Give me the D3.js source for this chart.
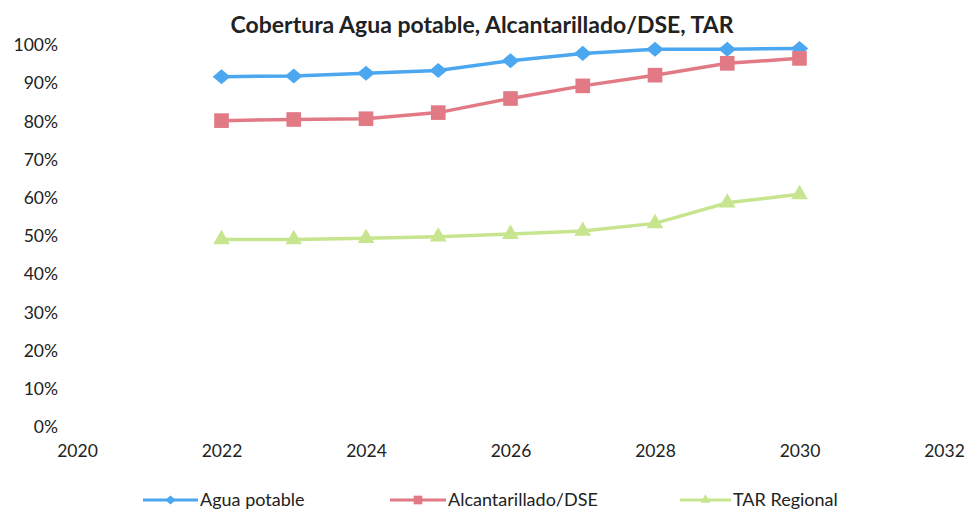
<!DOCTYPE html>
<html><head><meta charset="utf-8">
<script src="https://cdn.jsdelivr.net/npm/d3@7"></script>
<style>body{margin:0;background:#fff}svg{display:block}text{font-family:Lato,"Open Sans",sans-serif;fill:#222}</style>
</head><body><svg id="c" width="968" height="513"></svg>
<script>
const years = [2022,2023,2024,2025,2026,2027,2028,2029,2030];
const aguaPotable = [91.7,91.9,92.6,93.3,95.9,97.8,98.9,98.9,99.1];
const alcantarillado = [80.2,80.5,80.7,82.3,86.0,89.3,92.1,95.2,96.5];
const tarRegional = [49.1,49.1,49.4,49.8,50.5,51.3,53.3,58.7,60.9];
const xTicks = [2020,2022,2024,2026,2028,2030,2032];
const yTicks = [0,10,20,30,40,50,60,70,80,90,100];
const seriesNames = ["Agua potable","Alcantarillado/DSE","TAR Regional"];
const title = "Cobertura Agua potable, Alcantarillado/DSE, TAR";

// wide diamond symbol
const wideDiamond = { draw(ctx, size){ const r=Math.sqrt(size)/2; ctx.moveTo(0,-r*0.9); ctx.lineTo(r*1.05,0); ctx.lineTo(0,r*0.9); ctx.lineTo(-r*1.05,0); ctx.closePath(); } };
const series = [
  {name:seriesNames[0], values:aguaPotable, color:"#4ba7ef", sym:wideDiamond, size:280},
  {name:seriesNames[1], values:alcantarillado, color:"#e27a86", sym:d3.symbolSquare, size:215},
  {name:seriesNames[2], values:tarRegional, color:"#c6e58e", sym:d3.symbolTriangle, size:120}
];
const svg = d3.select("#c");
const x = d3.scaleLinear().domain([2020,2032]).range([77,944]);
const y = d3.scaleLinear().domain([0,100]).range([427,45]);

svg.append("text").attr("x",482).attr("y",33).attr("text-anchor","middle")
  .attr("font-size",23).attr("font-weight","bold").attr("fill","#333").text(title);

const yAxis = svg.append("g").attr("transform","translate(58,0)")
  .call(d3.axisLeft(y).tickValues(yTicks).tickFormat(d=>d+"%").tickSize(0).tickPadding(0));
yAxis.select(".domain").remove();
yAxis.selectAll("text").attr("font-size",17.5).style("font-family","Lato,sans-serif").attr("fill","#222");

const xAxis = svg.append("g").attr("transform","translate(0,445)")
  .call(d3.axisBottom(x).tickValues(xTicks).tickFormat(d3.format("d")).tickSize(0).tickPadding(0));
xAxis.select(".domain").remove();
xAxis.selectAll("text").attr("font-size",17.5).style("font-family","Lato,sans-serif").attr("fill","#222");

const line = d3.line().x((d,i)=>x(years[i])).y(d=>y(d));
series.forEach(s=>{
  svg.append("path").datum(s.values).attr("d",line).attr("fill","none")
    .attr("stroke",s.color).attr("stroke-width",3.5);
  svg.selectAll(null).data(s.values).enter().append("path")
    .attr("transform",(d,i)=>`translate(${x(years[i])},${y(d)})`)
    .attr("d",d3.symbol().type(s.sym).size(s.size)).attr("fill",s.color);
});

const legLine = [143,390,680];
const legText = [200,448,733];
series.forEach((s,i)=>{
  const g = svg.append("g").attr("transform",`translate(${legLine[i]},500)`);
  const w = legText[i]-legLine[i]-2;
  g.append("line").attr("x1",0).attr("x2",w).attr("stroke",s.color).attr("stroke-width",3);
  g.append("path").attr("transform",`translate(${w/2},0)`).attr("d",d3.symbol().type(s.sym).size(s.size*0.35)).attr("fill",s.color);
  g.append("text").attr("x",w+2).attr("y",6).attr("font-size",18).text(s.name);
});
</script></body></html>
